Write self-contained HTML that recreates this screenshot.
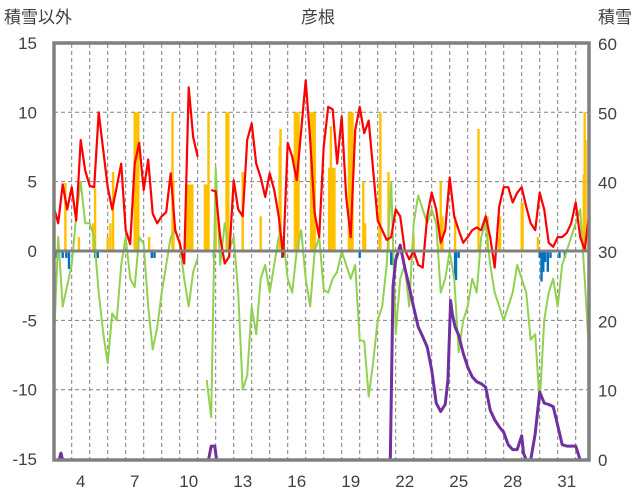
<!DOCTYPE html>
<html><head><meta charset="utf-8">
<style>
body{margin:0;background:#fff;}
svg{display:block;font-family:"Liberation Sans","Noto Sans CJK JP",sans-serif;}
</style></head>
<body>
<svg id="chart" width="636" height="501">
<defs><clipPath id="pc"><rect x="54" y="44" width="535" height="416"/></clipPath></defs>
<g id="grid"></g>
<g id="bars" clip-path="url(#pc)"></g>
<g id="lines" clip-path="url(#pc)"></g>
<g id="frame"></g>
<g id="labels"></g>
<text x="4" y="23" font-size="17" fill="#404040">積雪以外</text>
<text x="318" y="23" font-size="17" fill="#404040" text-anchor="middle">彦根</text>
<text x="632" y="23" font-size="17" fill="#404040" text-anchor="end">積雪</text>
</svg>
<script>
const leftTicks=[15,10,5,0,-5,-10,-15];
const rightTicks=[60,50,40,30,20,10,0];
const dayLabels=[4,7,10,13,16,19,22,25,28,31];
const redStart=3, step=0.25;
const redVals=[3.2,2.0,4.8,3.0, 4.6,2.2,8.0,5.8, 4.7,4.6,10.0,7.3, 4.6,3.0,4.6,6.3, 1.5,0.5,6.3,7.8,
4.4,6.6,2.7,2.0, 2.5,2.8,5.6,1.5, 0.6,-0.9,11.8,8.2, 6.8,null,null,4.4, 4.3,1.0,-0.9,-0.4,
5.1,3.0,2.5,8.0, 9.2,6.3,5.3,3.9, 5.6,4.4,2.5,-0.4, 7.8,6.8,5.1,8.7, 12.3,8.0,2.7,1.0,
7.5,10.4,10.2,6.3, 9.7,3.9,1.0,8.7, 10.4,8.5,9.4,5.8, 2.2,1.5,0.8,1.0, 3.0,2.5,0.1,-0.6,
0.0,-1.0,-1.2,2.5, 4.2,3.0,0.6,1.5, 5.3,2.5,1.5,0.6, 1.0,1.5,1.7,1.5, 2.5,1.0,-1.2,3.2,
4.6,4.6,3.5,4.2, 4.6,3.2,2.0,1.5, 4.2,3.0,0.6,0.3, 1.0,1.0,1.3,2.0, 3.5,1.0,0.1,2.7, 5.8,4.9];
const greenVals=[-7.0,1.0,-4.0,-2.5, -1.0,2.5,5.0,2.0, 2.0,1.0,-3.0,-5.9, -8.1,-4.5,-5.0,-1.0, 1.0,-2.0,-2.6,1.0,
0.5,-4.0,-7.1,-5.5, -3.0,-1.0,1.0,1.5, 0.5,-2.0,-4.0,-1.5, -0.5,null,-9.3,-12.0, 6.0,-1.0,2.0,0.0,
1.0,-3.0,-10.0,-9.0, -4.0,-6.0,-2.0,-1.0, -3.0,-1.0,1.0,1.0, -2.0,-3.0,0.0,1.5, -2.0,-4.0,0.0,1.0,
-2.8,-3.0,-2.0,-1.5, 0.0,-1.0,-2.0,-1.0, -6.4,-6.5,-10.5,-8.0, -5.0,-4.0,-1.0,5.0, -6.0,-2.0,-1.0,-4.0,
2.0,4.0,3.0,2.0, 3.0,2.0,-3.0,-2.0, 0.0,-2.0,-7.3,-5.0, -4.0,-2.0,-3.0,1.0, 2.0,-1.0,-3.0,-4.0,
-5.0,-4.0,-3.0,-1.0, -2.0,-3.0,-6.4,-6.0, -11.0,-5.0,-3.0,-2.0, -4.0,-1.0,0.0,1.0, 2.0,3.0,-2.0,-7.5];
const snowDays=[3.0,3.3,3.4,3.5,11.6,11.75,11.95,12.05,21.7,21.85,22.0,22.25,22.5,22.75,23.0,23.25,23.5,23.75,24.0,24.25,24.5,24.75,24.9,25.05,25.15,25.3,25.5,25.75,26.0,26.25,26.5,26.75,27.0,27.25,27.5,27.75,28.0,28.25,28.5,28.75,29.0,29.1,29.25,29.5,29.75,30.0,30.25,30.5,30.75,31.0,31.25,31.5,31.75,32.0,32.25,32.5,32.7];
const snowVals=[0,0,1,0,0,2,2,0,0,25,28.8,31,27.8,25,22,19.2,17.8,16.3,13,8.2,7,8,11.5,23,21,19.2,18,15.4,13.4,12,11.3,11,10.5,7.2,5.8,4.8,4,2.2,1.5,1.5,3.5,1,0,0,3.8,9.8,8.2,8,7.7,5,2.2,2,2,2,0,0];
const precipDays=[3.65,4.4,5.2,5.3,6.0,6.15,6.3,7.5,7.6,7.7,8.3,9.6,9.65,10.4,10.5,10.6,10.7,11.4,11.5,11.6,12.0,12.6,12.7,13.5,14.5,15.55,15.6,16.4,16.5,16.6,17.3,17.4,17.5,18.3,18.4,18.5,18.6,19.4,19.5,19.6,20.2,20.3,21.1,21.15,21.6,23.0,24.5,24.6,25.3,26.6,27.1,27.75,27.8,29.0,29.05,29.9,32.45,32.5,32.55];
const precipVals=[4.9,1,2,4.5,1,2,5.7,10,10,10,1,10,5,4.8,4.8,4.8,4.8,4.8,4.8,10,3,10,10,5.7,2.5,7.5,8.8,10,10,10,10,10,10,6,9,6,6,10,10,10,5,2,5,10,5.7,1,5,2.5,2.5,8.8,2.5,1,2.5,3.5,3.5,1,5.5,10,8];
const sunDays=[3.1,3.3,3.5,3.7,3.85,5.3,5.45,8.45,8.6,11.9,15.7,20.0,21.75,21.8,25.3,25.35,25.5,30.0,30.1,30.2,30.3,30.45,30.6,31.1,31.4];
const sunVals=[-0.5,-0.5,-0.5,-0.5,-1.3,-0.5,-0.5,-0.5,-0.5,-0.5,-0.5,-0.5,-1,-1,-2.1,-2.1,-0.5,-0.5,-2.2,-1.5,-0.8,-1.5,-0.5,-0.5,-0.5];

const NS='http://www.w3.org/2000/svg';
const X=t=>53.7+(t-3)*18;
const YL=v=>251-v*13.87;
const YR=v=>460-v*6.933;
function mk(tag,attrs,parent){const e=document.createElementNS(NS,tag);for(const k in attrs)e.setAttribute(k,attrs[k]);parent.appendChild(e);return e;}
const grid=document.getElementById('grid'),bars=document.getElementById('bars'),lines=document.getElementById('lines'),frame=document.getElementById('frame'),labels=document.getElementById('labels');
for(let d=4;d<=32;d++){const l=mk('line',{x1:X(d),x2:X(d),y1:44,y2:460,stroke:'#808080','stroke-width':1,'stroke-dasharray':'4 3'},grid);

}
leftTicks.forEach(v=>{if(v!==0&&Math.abs(v)!==15){const l=mk('line',{x1:54,x2:589,y1:YL(v),y2:YL(v),stroke:'#808080','stroke-width':1,'stroke-dasharray':'4 3'},grid);

}
const t=mk('text',{x:37,y:YL(v)+6,'font-size':17,'text-anchor':'end',fill:'#404040'},labels);t.textContent=v;

});
rightTicks.forEach(v=>{const t=mk('text',{x:598,y:YR(v)+6,'font-size':17,fill:'#404040'},labels);t.textContent=v;

});
dayLabels.forEach(d=>{const t=mk('text',{x:X(d)+9,y:487,'font-size':17,'text-anchor':'middle',fill:'#404040'},labels);t.textContent=d;

});
precipDays.forEach((d,i)=>{const v=precipVals[i];const r=mk('rect',{x:X(d)-1.2,y:YL(v),width:2.4,height:YL(0)-YL(v),fill:'#FFC000'},bars);

});
sunDays.forEach((d,i)=>{const v=sunVals[i];const r=mk('rect',{x:X(d)-1.2,y:YL(0),width:2.4,height:YL(v)-YL(0),fill:'#0070C0'},bars);

});
function series(vals,color,w,name){let d='',pen=false;vals.forEach((v,i)=>{if(v===null){pen=false;return;}const t=redStart+i*step;d+=(pen?'L':'M')+X(t).toFixed(1)+' '+YL(v).toFixed(1)+' ';pen=true;});
const p=mk('path',{d:d,fill:'none',stroke:color,'stroke-width':w,'stroke-linejoin':'round'},lines);

}
series(greenVals,'#92D050',2,'green-series-line');
series(redVals,'#FF0000',2.2,'red-series-line');
let sd='';snowDays.forEach((t,i)=>{sd+=(i?'L':'M')+X(t).toFixed(1)+' '+YR(snowVals[i]).toFixed(1)+' ';});
const sp=mk('path',{d:sd,fill:'none',stroke:'#7030A0','stroke-width':3,'stroke-linejoin':'round'},lines);


const z=mk('line',{x1:54,x2:589,y1:YL(0),y2:YL(0),stroke:'#808080','stroke-width':3},frame);


const fr=mk('rect',{x:54,y:43,width:535,height:417,fill:'none',stroke:'#808080','stroke-width':3.5},frame);


</script>
</body></html>
